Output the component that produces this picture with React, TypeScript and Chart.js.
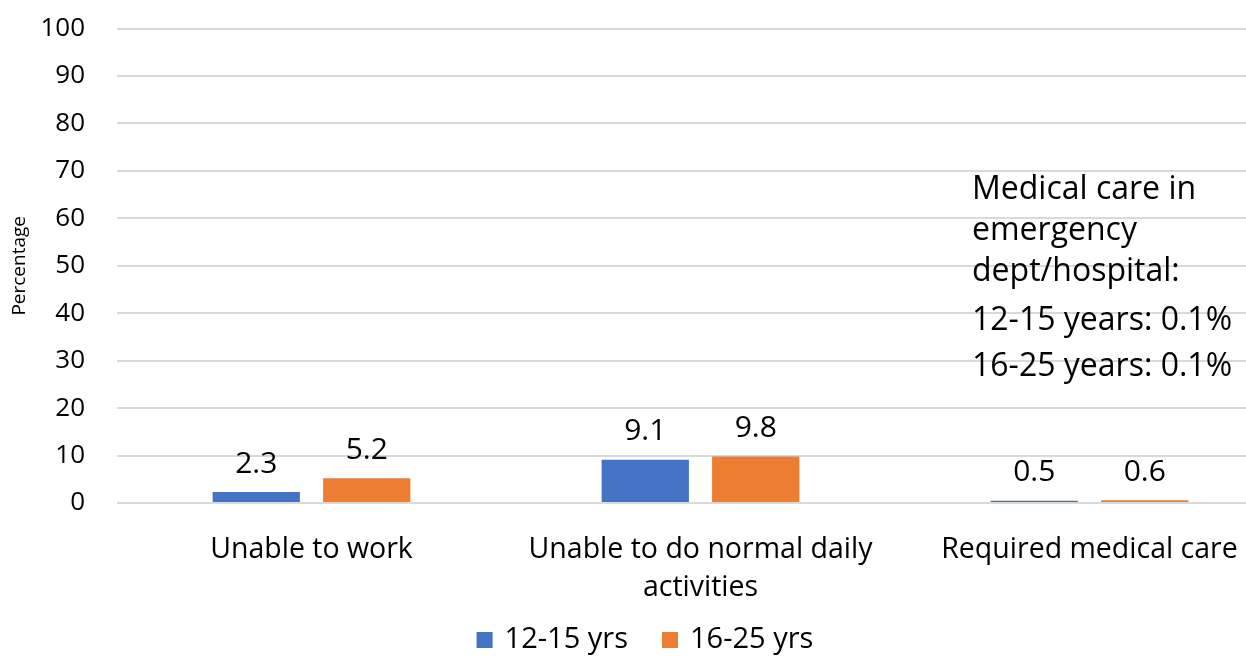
import React, { useEffect, useRef } from "react";
import { Chart, registerables } from "chart.js";

Chart.register(...registerables);

const categories: (string | string[])[] = [
  "Unable to work",
  ["Unable to do normal daily", "activities"],
  "Required medical care",
];
const series1215 = [2.3, 9.1, 0.5];
const series1625 = [5.2, 9.8, 0.6];
const seriesLabels = ["12-15 yrs", "16-25 yrs"];
const seriesColors = ["#4472C4", "#ED7D31"];
const yTicks = [0, 10, 20, 30, 40, 50, 60, 70, 80, 90, 100];
const noteLines = [
  "Medical care in",
  "emergency",
  "dept/hospital:",
  "12-15 years: 0.1%",
  "16-25 years: 0.1%",
];

const FONT = "'Open Sans', Lato, sans-serif";
const SHIFT = 19;

const valueLabels = {
  id: "valueLabels",
  afterDatasetsDraw(chart: any) {
    const ctx = chart.ctx;
    ctx.save();
    ctx.font = `30px ${FONT}`;
    ctx.fillStyle = "#000";
    ctx.textAlign = "center";
    ctx.textBaseline = "middle";
    chart.data.datasets.forEach((ds: any, i: number) => {
      const meta = chart.getDatasetMeta(i);
      meta.data.forEach((bar: any, j: number) => {
        ctx.fillText(String(ds.data[j]), bar.x, bar.y - 28);
      });
    });
    ctx.restore();
  },
};

const notePlugin = {
  id: "note",
  afterDraw(chart: any) {
    const ctx = chart.ctx;
    ctx.save();
    ctx.font = `32px ${FONT}`;
    ctx.fillStyle = "#000";
    ctx.textAlign = "left";
    ctx.textBaseline = "middle";
    const ys = [190, 231, 272, 321, 367];
    noteLines.forEach((t, i) => ctx.fillText(t, 972, ys[i] + SHIFT));

    // legend
    ctx.font = `29px ${FONT}`;
    ctx.textBaseline = "middle";
    const box = 16;
    const gapText = 12;
    const gapItem = 34;
    const widths = seriesLabels.map((s) => ctx.measureText(s).width);
    const total =
      widths.reduce((a, w) => a + box + gapText + w, 0) + gapItem * (seriesLabels.length - 1);
    let x = chart.width / 2 - total / 2;
    const y = 640 + SHIFT;
    seriesLabels.forEach((s, i) => {
      ctx.fillStyle = seriesColors[i];
      ctx.fillRect(x, y - box / 2, box, box);
      ctx.fillStyle = "#000";
      ctx.fillText(s, x + box + gapText, y);
      x += box + gapText + widths[i] + gapItem;
    });
    ctx.restore();
  },
};

export default function App() {
  const ref = useRef<HTMLCanvasElement>(null);
  useEffect(() => {
    document.body.style.margin = "0";
    document.body.style.overflow = "hidden";
    const chart = new Chart(ref.current!, {
      type: "bar",
      data: {
        labels: categories,
        datasets: [
          {
            label: seriesLabels[0],
            data: series1215,
            backgroundColor: seriesColors[0],
            categoryPercentage: 0.568,
            barPercentage: 0.79,
          },
          {
            label: seriesLabels[1],
            data: series1625,
            backgroundColor: seriesColors[1],
            categoryPercentage: 0.568,
            barPercentage: 0.79,
          },
        ],
      },
      options: {
        animation: false,
        responsive: false,
        layout: { padding: { top: 9, right: 6, left: 8, bottom: 0 } },
        plugins: {
          legend: { display: false },
          tooltip: { enabled: false },
          title: { display: false },
        },
        scales: {
          x: {
            grid: { display: false },
            border: { display: false },
            ticks: {
              font: { size: 28.5, family: FONT, lineHeight: 1.33 },
              color: "#000",
              padding: 20,
              maxRotation: 0,
            },
            afterFit(scale: any) {
              scale.height = 154;
            },
          },
          y: {
            min: 0,
            max: 100,
            afterBuildTicks(scale: any) {
              scale.ticks = yTicks.map((v) => ({ value: v }));
            },
            grid: { color: "#d9d9d9", lineWidth: 2, drawTicks: false },
            border: { display: false },
            ticks: {
              font: { size: 26, family: FONT },
              color: "#000",
              padding: 32,
            },
            title: {
              display: true,
              text: "Percentage",
              font: { size: 19, family: FONT },
              color: "#000",
              padding: 0,
            },
            afterFit(scale: any) {
              scale.width = 109;
            },
          },
        },
      },
      plugins: [valueLabels, notePlugin],
    });
    return () => chart.destroy();
  }, []);
  return (
    <div style={{ width: 1246, height: 657, overflow: "hidden", position: "relative" }}>
      <canvas
        ref={ref}
        width={1290}
        height={657 + SHIFT}
        style={{ display: "block", marginTop: -SHIFT }}
      />
    </div>
  );
}
